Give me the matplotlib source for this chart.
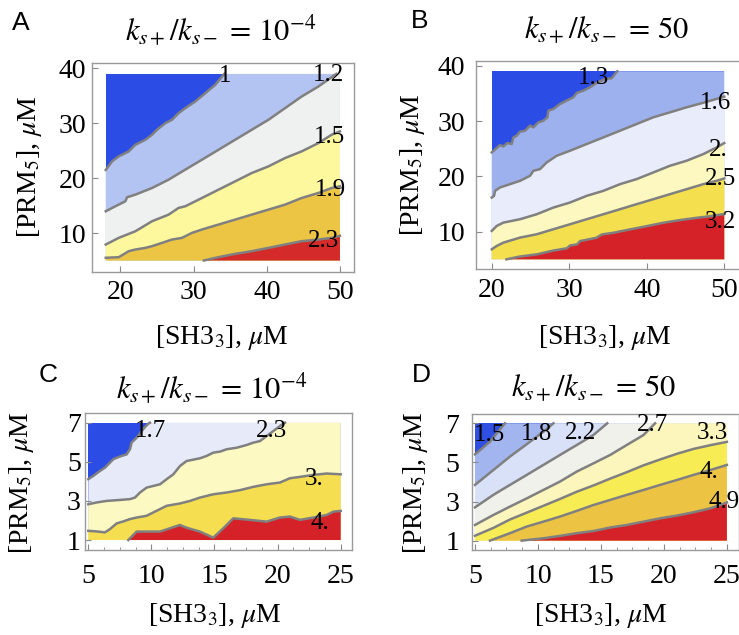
import matplotlib
matplotlib.use("Agg")
import matplotlib.pyplot as plt
from matplotlib.ticker import MultipleLocator

plt.rcParams["font.family"] = ["Liberation Serif", "DejaVu Serif"]
plt.rcParams["mathtext.fontset"] = "stix"

# ---------------- data ----------------
# Panel A: k_s+/k_s- = 1e-4, large concentrations
A_XR = [18, 50]
A_YR = [5, 39]
A_LEVELS = ["1", "1.2", "1.5", "1.9", "2.3"]
A_LINES = [
    ([18, 18.86, 19.77, 21.14, 22.05, 23.41, 24.32, 25.0, 26.14, 27.05, 27.95,
      28.86, 30.23, 31.59, 32.95, 34.2],
     [21.5, 23.06, 23.97, 24.88, 26.09, 27.0, 27.91, 28.82, 30.03, 30.64, 31.85,
      32.76, 33.97, 35.48, 37.0, 39.0]),
    ([18, 19.32, 20.68, 20.91, 22.05, 24.32, 26.59, 28.86, 31.14, 33.41, 35.68,
      37.95, 40.23, 42.5, 44.77, 47.05, 49.5],
     [13.97, 14.88, 15.79, 16.52, 17.0, 18.21, 19.73, 21.55, 23.36, 25.18, 27.0,
      28.82, 30.64, 32.76, 34.88, 36.7, 39.0]),
    ([18, 19.77, 22.05, 24.32, 26.59, 27.95, 28.86, 31.14, 33.41, 35.68, 37.95,
      40.23, 42.5, 44.77, 47.05, 48.86, 50],
     [7.91, 9.12, 10.33, 12.15, 13.36, 14.58, 14.88, 16.39, 17.91, 19.42, 20.94,
      22.15, 23.67, 24.88, 26.39, 27.91, 28.52]),
    ([18, 19.77, 21.14, 22.05, 23.41, 24.32, 25.68, 27.05, 28.41, 29.77, 31.14,
      33.41, 35.68, 37.95, 40.23, 42.5, 44.77, 47.05, 48.86, 50],
     [5.5, 5.6, 6.7, 7.0, 7.3, 7.61, 8.21, 8.82, 9.12, 10.03, 10.64,
      11.55, 12.45, 13.36, 14.27, 15.18, 16.39, 17.3, 18.21, 18.52]),
    ([31.4, 33.41, 35.68, 37.95, 40.23, 42.5, 44.77, 47.05, 48.86, 50],
     [5.0, 5.61, 6.21, 6.7, 7.3, 7.91, 8.52, 8.82, 9.12, 9.5]),
]

# Panel B: k_s+/k_s- = 50, large concentrations
B_XR = [20, 50]
B_YR = [5, 39]
B_LEVELS = ["1.3", "1.6", "2.", "2.5", "3.2"]
B_LINES = [
    ([20, 21.07, 21.5, 22.02, 22.58, 22.79, 23.22, 23.65, 24.3, 24.94, 25.37,
      26.02, 26.66, 27.18, 27.31, 27.95, 28.81, 29.67, 30.53, 30.96, 31.82,
      32.68, 33.54, 34.61, 35.47, 35.9, 36.2],
     [24.33, 25.65, 25.41, 26.02, 25.84, 27.04, 27.35, 28.07, 28.25, 29.16, 28.86,
      29.76, 30.06, 30.67, 31.87, 32.18, 33.08, 33.69, 34.29, 35.07, 35.5,
      36.1, 36.89, 37.61, 37.73, 38.52, 39.0]),
    ([20, 20.3, 20.43, 21.07, 22.36, 23.65, 24.94, 25.37, 26.23, 27.09, 28.38,
      30.1, 32.25, 34.4, 36.55, 38.69, 40.84, 42.99, 45.14, 47.29, 49.01, 50],
     [16.17, 16.48, 17.38, 17.99, 18.59, 19.19, 20.1, 21.0, 21.31, 22.51, 23.72,
      24.63, 25.84, 27.04, 28.25, 29.46, 30.67, 31.57, 32.48, 33.3, 34.0, 34.4]),
    ([20, 20.64, 21.5, 23.65, 25.8, 27.95, 30.1, 32.25, 34.4, 36.55, 38.69,
      40.84, 42.99, 45.14, 47.29, 49.01, 50],
     [10.14, 11.04, 11.64, 12.25, 13.15, 14.36, 15.27, 16.48, 17.38, 18.59, 19.5,
      20.7, 21.91, 22.82, 24.02, 25.23, 26.02]),
    ([20, 20.64, 21.5, 23.65, 25.8, 27.95, 30.1, 32.25, 34.4, 36.55, 38.69,
      40.84, 42.99, 45.14, 47.29, 49.01, 50],
     [6.81, 7.42, 8.02, 8.93, 9.53, 10.44, 11.34, 12.25, 13.15, 14.06, 14.97,
      15.87, 16.78, 17.68, 18.59, 19.19, 19.62]),
    ([21.9, 23.6, 25.8, 28.0, 29.7, 30.1, 31.0, 31.4, 33.5, 34.2, 35.7, 37.8,
      40.0, 42.1, 44.3, 46.4, 48.2, 50],
     [5.0, 5.5, 5.9, 6.6, 7.0, 7.5, 7.7, 8.3, 8.9, 9.5, 9.8, 10.4,
      11.0, 11.6, 12.1, 12.5, 12.8, 13.2]),
]

# Panel C: k_s+/k_s- = 1e-4, small concentrations
C_XR = [5, 25]
C_YR = [1, 7]
C_LEVELS = ["1.7", "2.3", "3.", "4."]
C_LINES = [
    ([5, 5.4, 5.92, 6.32, 6.72, 6.98, 7.25, 7.64, 8.04, 8.3, 8.43, 8.7, 8.96,
      9.23, 9.49, 9.76, 9.89],
     [4.11, 4.28, 4.53, 4.7, 4.96, 5.13, 5.21, 5.3, 5.38, 5.64, 5.98, 6.15, 6.32,
      6.57, 6.78, 6.95, 7.0]),
    ([5, 5.66, 6.45, 7.51, 8.3, 8.7, 9.1, 9.62, 10.68, 11.21, 11.74, 12.27,
      12.79, 13.85, 14.38, 14.91, 15.44, 15.96, 16.76, 17.55, 18.08, 18.61,
      19.13, 19.66, 20.19, 20.59],
     [2.83, 2.92, 3.0, 3.05, 3.09, 3.17, 3.43, 3.68, 3.85, 4.11, 4.36, 4.79,
      5.04, 5.18, 5.3, 5.47, 5.52, 5.64, 5.72, 5.86, 5.98, 6.06,
      6.32, 6.57, 6.83, 7.0]),
    ([5, 5.66, 6.32, 6.72, 7.25, 7.77, 8.3, 8.83, 9.62, 10.15, 10.68, 11.21,
      12.27, 13.06, 13.85, 14.91, 15.96, 17.02, 18.08, 19.13, 20.19, 20.98,
      21.78, 22.83, 23.89, 25],
     [1.47, 1.44, 1.39, 1.56, 1.85, 1.95, 2.07, 2.15, 2.24, 2.41, 2.58, 2.75,
      2.87, 3.0, 3.17, 3.34, 3.43, 3.55, 3.72, 3.85, 3.94, 4.16,
      4.23, 4.33, 4.4, 4.36]),
    ([8.17, 8.83, 10.68, 12.26, 12.79, 13.85, 14.9, 15.7, 16.49, 17.81, 19.13,
      20.19, 20.98, 21.77, 22.83, 23.89, 24.41, 25],
     [1.0, 1.43, 1.43, 1.77, 1.63, 1.43, 1.12, 1.6, 2.11, 2.03, 1.94,
      2.15, 2.2, 2.03, 2.15, 2.28, 2.45, 2.49]),
]

# Panel D: k_s+/k_s- = 50, small concentrations
D_XR = [5, 25]
D_YR = [1, 7]
D_LEVELS = ["1.5", "1.8", "2.2", "2.7", "3.3", "4.", "4.9"]
D_LINES = [
    ([5, 6.19, 7.38],
     [5.41, 6.06, 7.0]),
    ([5, 6.46, 7.78, 9.11, 10.43, 11.23],
     [3.85, 4.61, 5.3, 5.93, 6.57, 7.0]),
    ([5, 6.46, 7.78, 9.11, 10.43, 11.75, 13.08, 14.4, 15.5],
     [2.7, 3.34, 3.85, 4.36, 4.87, 5.38, 5.89, 6.4, 7.0]),
    ([5, 6.46, 7.78, 9.11, 10.43, 11.75, 13.08, 14.4, 15.73, 17.05, 18.38, 19.3],
     [1.8, 2.31, 2.74, 3.16, 3.59, 4.02, 4.53, 4.95, 5.38, 5.89, 6.4, 7.0]),
    ([5, 6.46, 7.78, 9.11, 10.43, 11.75, 13.08, 14.4, 15.73, 17.05, 18.38,
      19.7, 21.03, 22.35, 23.68, 25],
     [1.25, 1.65, 2.08, 2.43, 2.78, 3.13, 3.5, 3.82, 4.17, 4.5, 4.85,
      5.15, 5.44, 5.69, 5.88, 6.05]),
    ([6.19, 7.78, 9.11, 10.43, 11.75, 13.08, 14.4, 15.73, 17.05, 18.38, 19.7,
      21.03, 22.35, 23.68, 25],
     [1.0, 1.38, 1.72, 1.97, 2.23, 2.52, 2.82, 3.08, 3.34, 3.59, 3.85,
      4.1, 4.36, 4.61, 4.87]),
    ([8.71, 10.43, 11.75, 13.08, 14.4, 15.73, 17.05, 18.38, 19.7, 21.03, 22.35,
      23.68, 25],
     [1.0, 1.12, 1.24, 1.38, 1.49, 1.67, 1.8, 1.97, 2.14, 2.28, 2.45,
      2.65, 2.95]),
]

A_COLORS = ["#2c4ce6", "#b3c3f2", "#eef1f0", "#fdf89e", "#edc545", "#d42a2a"]
B_COLORS = ["#2c4ce6", "#9db1ee", "#e9edfb", "#fcf8c0", "#f4df4e", "#d42228"]
C_COLORS = ["#2c4ce6", "#e7eaf9", "#fcf9c3", "#f5df50", "#d42228"]
D_COLORS = ["#2f50e2", "#a2b5ee", "#d9e1f8", "#eff1ea", "#fcf6bc", "#f8ec55",
            "#edc343", "#d42228"]

# label offsets from the line end, in pixels (dx right, dy down)
A_LABEL_OFF = [(1, 2), (-8, 1), (-10, 6), (-10, 4), (-16, 5)]
B_LABEL_OFF = [(-24, 7), (-9, 6), (-6, 7), (-4, 1), (-4, 8)]
C_LABEL_OFF = [(0, 8), (-14, 8), (-27, 5), (-21, 12)]
D_LABEL_OFF = [(-15, 12), (-17, 11), (-27, 10), (-3, 2), (-15, -9), (-18, 7), (-3, 0)]

W, H = 739, 635
LINE_COLOR = "#808080"


def high_side(xs, ys, xr, yr):
    """Polygon enclosing the bottom-right (higher value) side of a contour line."""
    px, py = list(xs), list(ys)
    if py[-1] >= yr[1] and px[-1] < xr[1]:
        px.append(xr[1])
        py.append(yr[1])
    px.append(xr[1])
    py.append(yr[0])
    if px[0] <= xr[0] and py[0] > yr[0]:
        px.append(xr[0])
        py.append(yr[0])
    return px, py


def add_axes(fig, left, top, right, bottom):
    """Axes frame given in pixel coordinates of the final image."""
    return fig.add_axes([left / W, 1 - bottom / H, (right - left) / W, (bottom - top) / H])


def plot_panel(ax, xr, yr, lines, levels, colors, offsets, label_size):
    ax.fill([xr[0], xr[1], xr[1], xr[0]], [yr[0], yr[0], yr[1], yr[1]],
            color=colors[0], lw=0)
    for i, (xs, ys) in enumerate(lines):
        px, py = high_side(xs, ys, xr, yr)
        ax.fill(px, py, color=colors[i + 1], lw=0)
    for xs, ys in lines:
        ax.plot(xs, ys, color=LINE_COLOR, lw=1.8, solid_joinstyle="round")
    for (xs, ys), lab, (dx, dy) in zip(lines, levels, offsets):
        ax.annotate(lab, xy=(xs[-1], ys[-1]), xytext=(dx * 0.72, -dy * 0.72),
                    textcoords="offset points", ha="center", va="center",
                    fontsize=label_size, annotation_clip=False)


def style_axes(ax, xlim, ylim, xticks, yticks, pad_x, pad_y, minor_x=None):
    ax.set_xlim(xlim)
    ax.set_ylim(ylim)
    ax.set_xticks(xticks)
    ax.set_yticks(yticks)
    if minor_x:
        ax.xaxis.set_minor_locator(MultipleLocator(minor_x))
    for s in ax.spines.values():
        s.set_color("#9a9a9a")
        s.set_linewidth(1.0)
    ax.tick_params(which="both", direction="in", color="#8a8a8a", top=False, right=False,
                   labelsize=20)
    ax.tick_params(which="major", length=4, width=0.8)
    ax.tick_params(which="minor", length=2, width=0.6)
    ax.tick_params(axis="x", pad=pad_x)
    ax.tick_params(axis="y", pad=pad_y)


fig = plt.figure(figsize=(W / 100, H / 100), dpi=100)

axA = add_axes(fig, 91.7, 62.7, 354, 271.7)
plot_panel(axA, A_XR, A_YR, A_LINES, A_LEVELS, A_COLORS, A_LABEL_OFF, 18)
style_axes(axA, (16.08, 51.92), (2.96, 41.04), [20, 30, 40, 50], [10, 20, 30, 40], 6, 4)

axB = add_axes(fig, 476, 61, 740, 269.3)
plot_panel(axB, B_XR, B_YR, B_LINES, B_LEVELS, B_COLORS, B_LABEL_OFF, 18)
style_axes(axB, (17.97, 52.03), (3.2, 40.85), [20, 30, 40, 50], [10, 20, 30, 40], 6, 8)

axC = add_axes(fig, 85, 413.3, 352.3, 550)
plot_panel(axC, C_XR, C_YR, C_LINES, C_LEVELS, C_COLORS, C_LABEL_OFF, 18)
style_axes(axC, (4.74, 25.92), (0.49, 7.48), [5, 10, 15, 20, 25], [1, 3, 5, 7], 10, 3, 1.25)

axD = add_axes(fig, 471.7, 414.3, 738.5, 550)
plot_panel(axD, D_XR, D_YR, D_LINES, D_LEVELS, D_COLORS, D_LABEL_OFF, 18)
style_axes(axD, (4.74, 25.92), (0.52, 7.46), [5, 10, 15, 20, 25], [1, 3, 5, 7], 10, 9, 1.25)

# titles, axis labels and panel letters (pixel positions)
title_lo = r"$k_{s+}/k_{s-}\,=\,10^{-4}$"
title_hi = r"$k_{s+}/k_{s-}\,=\,50$"
xlab = r"[SH3$_3$], $\mu$M"
ylab = r"[PRM$_5$], $\mu$M"


def ftext(x, y, s, **kw):
    fig.text(x / W, 1 - y / H, s, ha="center", va="center", **kw)


ftext(221, 30, title_lo, fontsize=22)
ftext(607, 30, title_hi, fontsize=22)
ftext(212, 388, title_lo, fontsize=22)
ftext(594, 388, title_hi, fontsize=22)

ftext(222, 338, xlab, fontsize=20)
ftext(605, 338, xlab, fontsize=20)
ftext(215, 615, xlab, fontsize=20)
ftext(601, 615, xlab, fontsize=20)

ftext(30, 167, ylab, fontsize=20, rotation=90)
ftext(413, 165, ylab, fontsize=20, rotation=90)
ftext(21, 483, ylab, fontsize=20, rotation=90)
ftext(415, 483, ylab, fontsize=20, rotation=90)

for letter, (x, y) in zip("ABCD", [(21, 23.5), (420, 21.5), (48, 375), (421, 375)]):
    ftext(x, y, letter, fontsize=19, family=["Liberation Sans", "DejaVu Sans"])

fig.savefig("out.png", dpi=100)
